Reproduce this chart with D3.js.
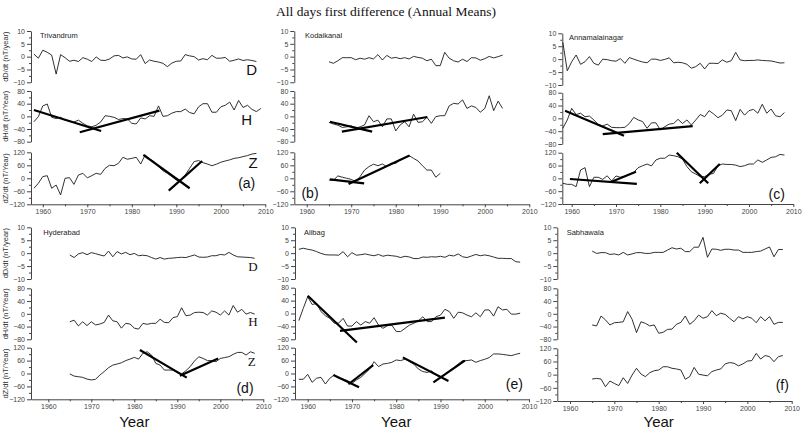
<!DOCTYPE html>
<html><head><meta charset="utf-8">
<script src="https://d3js.org/d3.v7.min.js"></script>
<style>
body{margin:0;background:#fff;}
svg{display:block;}
.axis path,.axis line{stroke:#444;stroke-width:1;}
.axis text{fill:#444;font-family:Arial,"Liberation Sans",sans-serif;font-size:7px;}
</style></head>
<body><svg id="c" width="802" height="445"></svg>
<script>
// ---------------- DATA ----------------
const title = "All days first difference (Annual Means)";
const stations = ["Trivandrum","Kodaikanal","Annamalainagar","Hyderabad","Alibag","Sabhawala"];
const panelTags = ["(a)","(b)","(c)","(d)","(e)","(f)"];
const xTicks = [1960,1970,1980,1990,2000,2010];
const xMinorTicks = [1965,1975,1985,1995,2005];
const dTicks = [10,5,0,-5,-10];
const hTicks = [80,40,0,-40,-80];
const zTicks = [120,60,0,-60,-120];
const dLabel = "dD/dt (nT/year)";
const hLabel = "dH/dt (nT/Year)";
const zLabel = "dZ/dt (nT/Year)";

// Trivandrum (a)
const trivandrumStart = 1958;
const trivandrumD = [1.0,-0.6,2.5,1.7,0.6,-6.8,0.8,-0.4,-1.8,-1.4,-1.9,-0.4,-1.0,-1.9,-0.1,-1.4,-1.5,-0.9,0.3,0.5,-0.5,-0.1,-0.9,-1.0,0.8,-2.7,-1.3,-1.8,-2.1,-2.6,-3.9,-2.5,-1.8,-1.7,0.8,0.3,0,-1.3,-0.8,-1.2,0.5,-0.6,-0.6,-0.3,-1.8,-1.4,-0.9,-1.5,-1.2,-1.5,-1.9];
const trivandrumH = [-17,-1,33,39,-3,-7,-3,-12,-15,-18,-12,-22,-30,-33,-28,-18,2,0,-3,-10,-7,-8,-22,-24,-5,-8,2,0,33,0,2,10,15,15,23,12,8,30,40,40,13,13,30,35,45,20,50,28,35,22,15,25];
const trivandrumZ = [-46,-23,8,12,-46,-31,-77,0,3,-28,15,23,2,12,23,18,46,60,58,69,97,88,92,97,66,108,88,77,54,35,23,8,-8,-8,15,46,77,82,72,66,58,65,74,80,85,92,95,100,105,112,115];
const trivandrumTrendH = [[1958,20,1973.1,-46],[1968.3,-50,1986.2,18]];
const trivandrumTrendZ = [[1982.6,108,1993,-46],[1988.3,-57,1995.8,80]];

// Kodaikanal (b)
const kodaikanalStart = 1965;
const kodaikanalD = [-2,-2.6,-1.6,-0.4,-0.4,-0.4,-1.2,-0.6,-1,-0.4,-0.9,0.8,-1.3,0.5,-0.6,-0.3,-0.8,-0.4,-0.9,0.1,-0.3,-0.6,-1.6,-1,-3.5,-3.5,1.7,-0.6,-1.6,-2.1,-1,-1.9,-0.4,-0.5,-1.4,-0.8,0.1,-0.5,0,0.6];
const kodaikanalH = [-19,-24,-28,-35,-33,-30,-38,-33,-27,2,-17,-12,-33,-8,-8,-46,-27,-17,-33,7,-19,-17,-3,-22,-1,2,2,33,41,39,52,25,33,28,13,25,65,18,48,25];
const kodaikanalZ = [-8,-9,11,5,0,-5,-15,8,38,54,65,58,66,54,69,69,85,95,105,92,80,58,38,38,5,23];
const kodaikanalTrendH = [[1965.2,-17,1974.7,-48],[1967.9,-48,1987.1,-2]];
const kodaikanalTrendZ = [[1965.2,-5,1972.9,-23],[1969.4,-26,1983.1,105]];

// Annamalainagar (c)
const annamalainagarStart = 1958;
const annamalainagarD = [6.5,-4.5,-1,1.6,-2,-1,1,-1.6,-2.3,0,-0.2,-0.6,-0.8,0.2,-1.6,0.6,0,-0.6,-1.1,-1.4,0,0,-0.5,-0.1,0.5,-1.4,-1.2,-1.4,-2,-3.5,-2.9,-1.6,-3.8,-1.6,-1.6,-1.7,-0.3,-1.2,-0.6,2.6,-0.3,-0.6,-0.5,-0.5,-0.3,-0.5,-0.6,-0.7,-1.1,-1.5,-1.4];
const annamalainagarH = [-31,-5,31,12,16,5,7,-5,-19,-24,-18,-28,-29,-29,-28,-16,3,-5,-10,-31,-14,-14,-36,-26,-18,-16,-3,-16,-5,-21,-5,12,5,24,14,2,10,26,24,-7,28,10,24,28,16,44,16,29,8,5,18];
const annamalainagarZ = [-23,-28,-28,-39,39,50,-39,5,5,-5,12,-12,11,5,11,20,28,50,59,67,58,86,94,94,109,106,101,90,55,31,20,8,8,19,23,59,67,65,65,62,55,59,67,67,86,75,86,98,101,112,109];
const annamalainagarTrendH = [[1958.5,24,1971.8,-54],[1967,-49,1987.3,-24]];
const annamalainagarTrendZ = [[1959.6,-3,1974.7,-26],[1969,-16,1974.5,31],[1983.7,120,1990.8,-23],[1988.9,-23,1993.4,67]];

// Hyderabad (d)
const hyderabadStart = 1965;
const hyderabadD = [-0.7,-1.7,-0.3,0.2,-0.6,0.2,-0.2,-0.7,-1.1,0.8,-1.4,0.6,-0.3,0.3,-0.6,-0.1,-1,-0.8,-1,-1.7,-2.3,-1.7,-2.3,-2,-1.9,-1.7,-1.6,-1.7,-1.2,-0.7,-1.5,-1.6,-1.5,-1,-1,-0.5,-0.7,0.3,-0.7,-1.4,-1.5,-1.6,-1.7,-2];
const hyderabadH = [-25,-20,-38,-25,-37,-25,-35,-32,-27,-4,-22,-25,-45,-30,-32,-45,-48,-30,-33,-30,-30,-17,-27,-28,-12,-9,19,-6,-4,4,5,4,-4,9,5,-4,9,-4,26,5,14,-1,4,-1];
const hyderabadZ = [-2,-12,-15,-18,-26,-30,-27,-7,9,27,39,44,50,60,67,75,67,94,101,86,47,39,16,16,16,4,-2,13,32,58,78,70,60,60,55,70,74,78,89,98,98,86,101,94];
const hyderabadTrendH = [];
const hyderabadTrendZ = [[1981.3,109,1992.2,-19],[1990.6,-10,1999.5,70]];

// Alibag (e)
const alibagStart = 1958;
const alibagD = [1.5,1.9,1.5,1.2,0.6,-0.1,-0.6,-0.7,-0.7,-0.8,0.6,-1.4,0.2,-0.8,-0.6,-0.3,-0.7,-1,-0.5,-1.2,-0.8,-1,-1.2,-1.7,-1.2,-1.5,-2.1,-2.1,-1.5,-1.6,-1.4,-1.5,-1.2,-1.6,-0.8,-1.1,-0.3,-1.4,-1.7,-1.1,-0.5,-1,-0.7,-1,-1.5,-2,-2,-2.1,-2.1,-3.3,-3.5];
const alibagH = [-22,16,52,28,31,6,-7,-15,-30,-30,-15,-39,-39,-25,-36,-25,-30,-13,-36,-46,-38,-36,-56,-56,-46,-36,-30,-23,-10,-25,-25,-10,-5,13,6,-15,4,2,-5,-10,2,-10,11,11,-8,21,11,13,-2,-2,1];
const alibagZ = [-27,-27,-4,-41,-22,-18,-49,-22,-7,-22,-26,-33,-46,-30,-18,1,21,55,32,44,47,52,63,60,67,55,43,21,9,5,12,-7,-18,-4,12,27,44,60,60,63,52,60,66,74,91,91,89,86,83,89,94];
const alibagTrendH = [[1960,55,1971.1,-90],[1967.3,-54,1991,-13]];
const alibagTrendZ = [[1965.8,-7,1971.6,-64],[1969.2,-50,1974.8,39],[1981.5,75,1991.8,-35],[1988.4,-41,1995.5,60]];

// Sabhawala (f)
const sabhawalaStart = 1965;
const sabhawalaD = [0.8,-0.1,0.2,0.2,-0.5,-0.3,-0.7,0.3,-0.7,-0.3,0.2,0.2,-0.1,-0.1,0.3,0.3,0.3,1.2,2.1,1.6,1.9,0.6,0.6,2.3,2.3,6.1,-1.6,1.6,1.5,1.1,1.5,1.5,1.2,1.2,0.3,0.3,0.3,0.6,0.8,1.6,2.4,-1.4,1.4,1.4];
const sabhawalaH = [-35,-38,-7,-19,-35,-28,-27,-25,7,-17,-59,-25,-30,-38,-35,-61,-58,-49,-48,-33,-27,-7,-33,-22,-4,-14,-9,10,-6,2,-2,-14,-25,-9,-16,-9,-14,-28,-9,-22,-9,-33,-27,-27];
const sabhawalaZ = [-20,-17,-20,-55,-29,-40,-50,-14,-40,-2,29,3,-9,9,18,21,36,36,29,26,21,-21,-9,33,2,-2,-5,14,21,26,49,55,52,40,49,62,64,97,71,87,82,59,82,87];
const sabhawalaTrendH = [];
const sabhawalaTrendZ = [];

// ---------------- LAYOUT (positions only) ----------------
const layout = [
  {left:31,   x60:42.8,  x10:265.3, D:[31,82.3],   H:[91,141.7],   Z:[152.3,204.3], nameDx:9,   nameY:38,    tag:[246.7,188], yTitles:true, comp:"sans"},
  {left:294.3,x60:306.7, x10:529.3, D:[31,82.3],   H:[91,141.7],   Z:[152.3,204.3], nameDx:10.7,nameY:38,    tag:[310,198]},
  {left:562.3,x60:571.7, x10:793.3, D:[33.3,85],   H:[92.7,144],   Z:[152.7,204],   nameDx:6.7, nameY:39.5,  tag:[776.7,198.5]},
  {left:31,   x60:48.3,  x10:263.3, D:[227.3,279], H:[288.3,339.3],Z:[347.7,399.3], nameDx:12.3,nameY:234.5, tag:[245,393], yTitles:true, comp:"serif", year:true},
  {left:295,  x60:307.7, x10:529,   D:[227.3,279], H:[287.7,339.3],Z:[347.7,399.3], nameDx:9,   nameY:234.5, tag:[514.3,388.5], year:true},
  {left:557.3,x60:570,   x10:791.7, D:[227.3,279], H:[288.3,339.3],Z:[348.3,401],   nameDx:9.4, nameY:234.5, tag:[782.3,390], year:true}
];
const compLabelPos = {
  sans:{D:[251.7,75],H:[246.7,125],Z:[253,168]},
  serif:{D:[253,271],H:[253,326],Z:[251.7,366]}
};

const series = [
  {start:trivandrumStart, D:trivandrumD, H:trivandrumH, Z:trivandrumZ, tH:trivandrumTrendH, tZ:trivandrumTrendZ},
  {start:kodaikanalStart, D:kodaikanalD, H:kodaikanalH, Z:kodaikanalZ, tH:kodaikanalTrendH, tZ:kodaikanalTrendZ},
  {start:annamalainagarStart, D:annamalainagarD, H:annamalainagarH, Z:annamalainagarZ, tH:annamalainagarTrendH, tZ:annamalainagarTrendZ},
  {start:hyderabadStart, D:hyderabadD, H:hyderabadH, Z:hyderabadZ, tH:hyderabadTrendH, tZ:hyderabadTrendZ},
  {start:alibagStart, D:alibagD, H:alibagH, Z:alibagZ, tH:alibagTrendH, tZ:alibagTrendZ},
  {start:sabhawalaStart, D:sabhawalaD, H:sabhawalaH, Z:sabhawalaZ, tH:sabhawalaTrendH, tZ:sabhawalaTrendZ}
];

// ---------------- DRAW ----------------
const svg = d3.select("#c");
svg.append("text").attr("x",386).attr("y",16).attr("text-anchor","middle")
  .style("font-family","'Liberation Serif','Times New Roman',serif").style("font-size","13.5px").style("fill","#111")
  .text(title);

const minorOf = t => { const m=[]; for(let i=0;i<t.length-1;i++) m.push((t[i]+t[i+1])/2); return m; };

layout.forEach((L,pi)=>{
  const S = series[pi];
  const g = svg.append("g");
  const x0 = d3.scaleLinear().domain([1960,2010]).range([L.x60,L.x10]);
  const x = d3.scaleLinear().domain([x0.invert(L.left),2010]).range([L.left,L.x10]);
  const ys = {
    D: d3.scaleLinear().domain([-10,10]).range([L.D[1],L.D[0]]),
    H: d3.scaleLinear().domain([-80,80]).range([L.H[1],L.H[0]]),
    Z: d3.scaleLinear().domain([-120,120]).range([L.Z[1],L.Z[0]])
  };
  const tickSets = {D:dTicks,H:hTicks,Z:zTicks};
  // y axes
  ["D","H","Z"].forEach(k=>{
    g.append("g").attr("class","axis").attr("transform",`translate(${L.left},0)`)
      .call(d3.axisLeft(ys[k]).tickValues(tickSets[k]).tickSize(4).tickSizeOuter(0).tickPadding(2));
    g.append("g").attr("class","axis").attr("transform",`translate(${L.left},0)`)
      .call(d3.axisLeft(ys[k]).tickValues(minorOf(tickSets[k])).tickSize(2).tickSizeOuter(0).tickFormat(""))
      .select(".domain").remove();
  });
  // x axis
  g.append("g").attr("class","axis").attr("transform",`translate(0,${L.Z[1]})`)
    .call(d3.axisBottom(x).tickValues(xTicks).tickSize(3).tickSizeOuter(0).tickPadding(2).tickFormat(d3.format("d")));
  g.append("g").attr("class","axis").attr("transform",`translate(0,${L.Z[1]})`)
    .call(d3.axisBottom(x).tickValues(xMinorTicks).tickSize(2).tickSizeOuter(0).tickFormat(""))
    .select(".domain").remove();

  // data lines
  ["D","H","Z"].forEach(k=>{
    const vals = S[k].map((v,i)=>({yr:S.start+i, v}));
    const line = d3.line().x(d=>x(d.yr)).y(d=>ys[k](d.v));
    g.append("path").datum(vals).attr("d",line)
      .attr("fill","none").attr("stroke","#1a1a1a").attr("stroke-width",0.9).attr("stroke-linejoin","round");
  });
  // trend lines
  [["H",S.tH],["Z",S.tZ]].forEach(([k,arr])=>{
    arr.forEach(t=>{
      g.append("line").attr("x1",x(t[0])).attr("y1",ys[k](t[1])).attr("x2",x(t[2])).attr("y2",ys[k](t[3]))
        .attr("stroke","#000").attr("stroke-width",2.2).attr("stroke-linecap","butt");
    });
  });

  // station name
  g.append("text").attr("x",L.left+L.nameDx).attr("y",L.nameY)
    .style("font-family","Arial,'Liberation Sans',sans-serif").style("font-size","7.5px").style("fill","#222")
    .text(stations[pi]);
  // panel tag
  g.append("text").attr("x",L.tag[0]).attr("y",L.tag[1]).attr("text-anchor","middle")
    .style("font-family","Arial,'Liberation Sans',sans-serif").style("font-size","14px").style("fill","#111")
    .text(panelTags[pi]);
  // component letters
  if(L.comp){
    const P = compLabelPos[L.comp];
    ["D","H","Z"].forEach(k=>{
      g.append("text").attr("x",P[k][0]).attr("y",P[k][1]).attr("text-anchor","middle")
        .style("font-family", L.comp==="sans" ? "Arial,'Liberation Sans',sans-serif" : "'Liberation Serif','Times New Roman',serif")
        .style("font-size", L.comp==="sans" ? "15px" : "13px").style("fill","#111")
        .text(k);
    });
  }
  // y titles
  if(L.yTitles){
    [["D",dLabel],["H",hLabel],["Z",zLabel]].forEach(([k,lab])=>{
      const cy = (L[k][0]+L[k][1])/2;
      g.append("text").attr("transform",`translate(7.5,${cy}) rotate(-90)`).attr("text-anchor","middle")
        .style("font-family","Arial,'Liberation Sans',sans-serif").style("font-size","7.5px").style("fill","#333")
        .text(lab);
    });
  }
  // Year label
  if(L.year){
    g.append("text").attr("x",x0(1980)).attr("y",427).attr("text-anchor","middle")
      .style("font-family","Arial,'Liberation Sans',sans-serif").style("font-size","15px").style("fill","#111")
      .text("Year");
  }
});
</script></body></html>
